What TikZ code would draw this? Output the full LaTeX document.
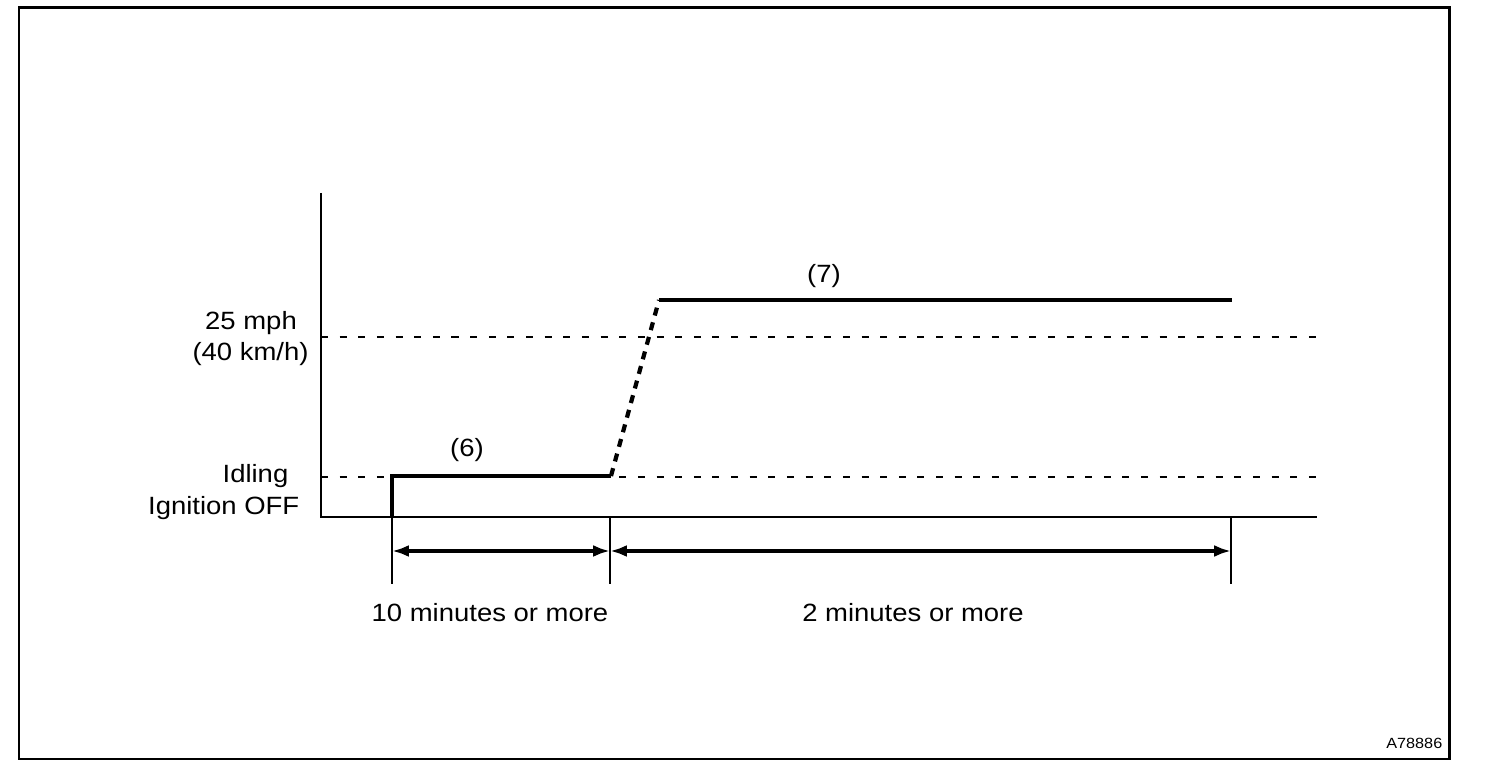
\documentclass[tikz,border=0pt]{standalone}
\usepackage{fontspec}
\setmainfont{Liberation Sans}[FakeStretch=1.1]
\usetikzlibrary{arrows.meta}

\tikzset{
  guide/.style={line width=0.55pt, dash pattern=on 2pt off 3.3pt},
  trace/.style={line width=1.3pt},
  ramp/.style={line width=1.2pt, dash pattern=on 2.3pt off 2pt},
  timespan/.style={line width=1pt, {Latex[length=4.8pt,width=3.4pt]}-{Latex[length=4.8pt,width=3.4pt]}},
  note/.style={font=\fontsize{7.1}{8.5}\selectfont, inner sep=0pt},
}

\begin{document}
\begin{tikzpicture}[x=0.01cm, y=-0.01cm]
  \useasboundingbox (0,0) rectangle (1504,780);
  \draw[line width=0.85pt] (19,8) rectangle (1449,759);

  % axes
  \coordinate (origin) at (321,517);
  \coordinate (ytop) at (321,193);
  \coordinate (xend) at (1317,517);
  \draw[line width=0.8pt] (ytop) -- (origin) -- (xend);

  % levels
  \coordinate (idleL) at (321,477);
  \coordinate (idleR) at (1317,477);
  \coordinate (fastL) at (321,337);
  \coordinate (fastR) at (1317,337);
  \draw[guide] (idleL) -- (idleR);
  \draw[guide] (fastL) -- (fastR);

  % speed trace
  \coordinate (start) at (392,517);
  \coordinate (idleA) at (392,476);
  \coordinate (idleB) at (611,476);
  \coordinate (runA) at (659,300);
  \coordinate (runB) at (1232,300);
  \draw[trace] (start) -- (idleA) -- (idleB);
  \draw[ramp] (idleB) -- (runA);
  \draw[trace] (runA) -- (runB);

  % time marks
  \foreach \name/\x in {tA/392, tB/610, tC/1231} {
    \coordinate (\name top) at (\x,517);
    \coordinate (\name bot) at (\x,584);
    \coordinate (\name) at (\x,551);
    \draw[line width=0.5pt] (\name top) -- (\name bot);
  }
  \draw[timespan] (tA) -- (tB);
  \draw[timespan] (tB) -- (tC);

  % texts
  \node[note, anchor=base] (mph) at (251,330) {25 mph};
  \node[note, anchor=base] (kmh) at (250.5,361) {(40 km/h)};
  \node[note, anchor=base east] (idling) at (289,483) {Idling};
  \node[note, anchor=base east] (ignoff) at (300,515) {Ignition OFF};
  \node[note] (stepsix) at (467,450) {(6)};
  \node[note] (stepseven) at (824,276) {(7)};
  \node[note, anchor=base] (tenmin) at (490,622) {10 minutes or more};
  \node[note, anchor=base] (twomin) at (913,622) {2 minutes or more};
  \node[font=\fontsize{4.2}{5}\selectfont, inner sep=0pt, anchor=base east] (code) at (1443,748) {A78886};
\end{tikzpicture}
\end{document}
